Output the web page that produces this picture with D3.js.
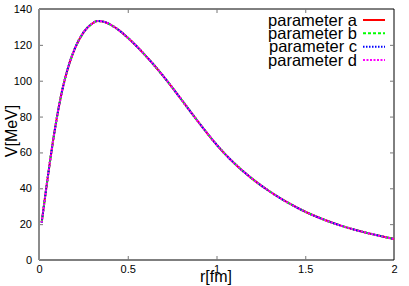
<!DOCTYPE html>
<html lang="en">
	<head>
		<meta charset="UTF-8">
		<title>Potential</title>
		<script src="https://cdnjs.cloudflare.com/ajax/libs/d3/7.8.5/d3.min.js"></script>
		<style>
			body {margin: 0; background: #fff;}
			text {font-family: "Liberation Sans", Arial, sans-serif;}
		</style>
		<script>
// r in fm, V in MeV (the four curves lie on top of each other)
var rValues = [0.015, 0.03, 0.045, 0.062, 0.08, 0.1, 0.125, 0.15, 0.2, 0.25, 0.3, 0.33, 0.37, 0.4, 0.45, 0.5, 0.55, 0.6, 0.65, 0.7, 0.75, 0.8, 0.85, 0.9, 0.95, 1.0, 1.05, 1.1, 1.15, 1.2, 1.3, 1.4, 1.5, 1.6, 1.7, 1.8, 1.9, 2.0];
var vA = [20.8, 32, 43, 55, 67, 79, 92, 102.5, 117.5, 126.8, 131.9, 133.3, 132.8, 131.4, 128.2, 124.0, 119.2, 114.0, 108.5, 102.6, 96.3, 89.8, 83.2, 76.7, 70.4, 64.4, 58.9, 54.0, 49.5, 45.4, 38.2, 32.1, 26.9, 22.7, 19.2, 16.3, 13.9, 11.7];
var vB = [20.8, 32, 43, 55, 67, 79, 92, 102.5, 117.5, 126.8, 131.9, 133.3, 132.8, 131.4, 128.2, 124.0, 119.2, 114.0, 108.5, 102.6, 96.3, 89.8, 83.2, 76.7, 70.4, 64.4, 58.9, 54.0, 49.5, 45.4, 38.2, 32.1, 26.9, 22.7, 19.2, 16.3, 13.9, 11.7];
var vC = [20.8, 32, 43, 55, 67, 79, 92, 102.5, 117.5, 126.8, 131.9, 133.3, 132.8, 131.4, 128.2, 124.0, 119.2, 114.0, 108.5, 102.6, 96.3, 89.8, 83.2, 76.7, 70.4, 64.4, 58.9, 54.0, 49.5, 45.4, 38.2, 32.1, 26.9, 22.7, 19.2, 16.3, 13.9, 11.7];
var vD = [20.8, 32, 43, 55, 67, 79, 92, 102.5, 117.5, 126.8, 131.9, 133.3, 132.8, 131.4, 128.2, 124.0, 119.2, 114.0, 108.5, 102.6, 96.3, 89.8, 83.2, 76.7, 70.4, 64.4, 58.9, 54.0, 49.5, 45.4, 38.2, 32.1, 26.9, 22.7, 19.2, 16.3, 13.9, 11.7];

var seriesNames = ["parameter a", "parameter b", "parameter c", "parameter d"];
var xTicks = [0, 0.5, 1, 1.5, 2];
var yTicks = [0, 20, 40, 60, 80, 100, 120, 140];

function makeChart() {
	var svg = d3.select("#chart").attr("width", 409).attr("height", 286);

	var L = 39, R = 394, T = 9, B = 260;
	var x = d3.scaleLinear().domain([0, 2]).range([L, R]);
	var y = d3.scaleLinear().domain([0, 140]).range([B, T]);

	// frame
	svg.append("line").attr("x1", L).attr("y1", T).attr("x2", R).attr("y2", T)
		.attr("stroke", "#000").attr("stroke-width", 1);
	svg.append("line").attr("x1", R).attr("y1", T).attr("x2", R).attr("y2", B)
		.attr("stroke", "#000").attr("stroke-width", 1);
	svg.append("line").attr("x1", L).attr("y1", B).attr("x2", R).attr("y2", B)
		.attr("stroke", "#000").attr("stroke-width", 1.2);

	// ticks, inward on all four sides
	var xb = d3.axisBottom(x).tickValues(xTicks).tickFormat(d3.format("")).tickSizeInner(-4).tickSizeOuter(0).tickPadding(5);
	var xt = d3.axisTop(x).tickValues(xTicks).tickFormat("").tickSizeInner(-4).tickSizeOuter(0);
	var yl = d3.axisLeft(y).tickValues(yTicks).tickSizeInner(-4).tickSizeOuter(0).tickPadding(7);
	var yr = d3.axisRight(y).tickValues(yTicks).tickFormat("").tickSizeInner(-4).tickSizeOuter(0);

	var gxb = svg.append("g").attr("transform", "translate(0," + B + ")").call(xb);
	var gxt = svg.append("g").attr("transform", "translate(0," + T + ")").call(xt);
	var gyl = svg.append("g").attr("transform", "translate(" + L + ",0)").call(yl);
	var gyr = svg.append("g").attr("transform", "translate(" + R + ",0)").call(yr);

	[gxb, gxt, gyl, gyr].forEach(function(g) {
		g.select(".domain").remove();
		g.selectAll(".tick line").attr("stroke", "#777");
		g.selectAll("text").attr("font-size", 11).attr("fill", "#000")
			.attr("font-family", "'Liberation Sans', Arial, sans-serif");
	});
	gxt.selectAll(".tick").filter(function(d) {return d == 0 || d == 2;}).remove();
	gyr.selectAll(".tick").filter(function(d) {return d == 0 || d == 140;}).remove();
	gxb.selectAll(".tick line").filter(function(d) {return d == 0 || d == 2;}).remove();
	gyl.selectAll(".tick line").filter(function(d) {return d == 0 || d == 140;}).remove();

	// left border is grey and heavier
	svg.append("line").attr("x1", L).attr("y1", T).attr("x2", L).attr("y2", B)
		.attr("stroke", "#8c8c8c").attr("stroke-width", 2);

	// axis titles
	svg.append("text").attr("x", 216).attr("y", 282).attr("text-anchor", "middle")
		.attr("font-size", 16).text("r[fm]");
	svg.append("text").attr("transform", "translate(17,131) rotate(-90)")
		.attr("text-anchor", "middle").attr("font-size", 16).text("V[MeV]");

	// curves
	var styles = [
		{color: "#ff0000", dash: null},
		{color: "#00ff00", dash: "3,2"},
		{color: "#0000ff", dash: "1.5,1.5"},
		{color: "#ff00ff", dash: "2,1.5"}
	];
	var allV = [vA, vB, vC, vD];
	var line = d3.line()
		.x(function(d) {return x(d[0]);})
		.y(function(d) {return y(d[1]);})
		.curve(d3.curveMonotoneX);

	allV.forEach(function(vals, i) {
		var pts = rValues.map(function(r, j) {return [r, vals[j]];});
		svg.append("path").datum(pts)
			.attr("d", line)
			.attr("fill", "none")
			.attr("stroke", styles[i].color)
			.attr("stroke-width", 2)
			.attr("stroke-dasharray", styles[i].dash);
	});

	// legend
	var legY = [20, 33.3, 46.7, 60];
	seriesNames.forEach(function(name, i) {
		svg.append("text").attr("x", 357).attr("y", legY[i] + 5.5)
			.attr("text-anchor", "end").attr("font-size", 16.5).text(name);
		svg.append("line").attr("x1", 363).attr("x2", 385)
			.attr("y1", legY[i]).attr("y2", legY[i])
			.attr("stroke", styles[i].color).attr("stroke-width", 2)
			.attr("stroke-dasharray", styles[i].dash);
	});
}
		</script>
	</head>
	<body onload="makeChart()">
		<svg id="chart"></svg>
	</body>
</html>
